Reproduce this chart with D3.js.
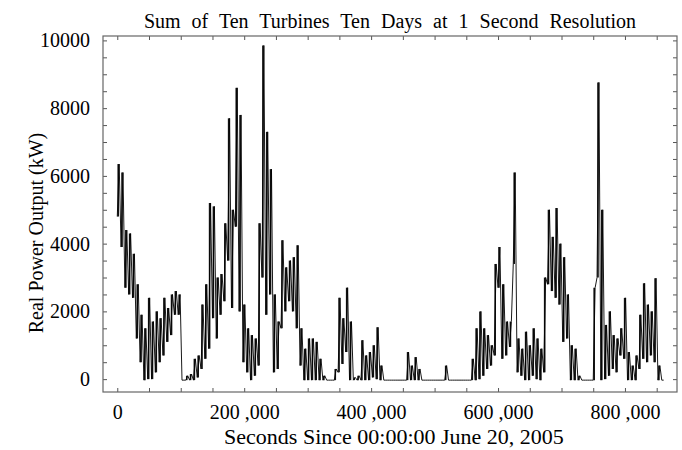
<!DOCTYPE html>
<html>
<head>
<meta charset="utf-8">
<script src="https://cdn.jsdelivr.net/npm/d3@7"></script>
<style>
  html, body { margin: 0; padding: 0; background: #fff; }
  svg text { font-family: "Liberation Serif", "Times New Roman", serif; fill: #000; }
</style>
</head>
<body>
<div id="chart"></div>
<script>
// Ten-day record, one low/high pair per 6000 s bucket (kW)
const bucketSeconds = 6000;

const lowKW = [
  4800, 3900, 2700, 2500, 2400, 1200, 500, -30, 0, 0,
  200, 500, 700, 1100, 1300, 1900, 1900, -30, -30, -30,
  -30, 50, 300, 600, 900, 1800, 1200, 1900, 2300, 3500,
  2100, 4500, 2000, 500, 200, -30, 100, 400, 3000, 1900,
  2500, 200, 300, 1500, 2000, 2300, 2000, 1500, 400, -30,
  -30, -30, -30, -30, -30, -30, -30, -30, 200, 450,
  800, -30, -30, -30, -30, -30, -30, 50, 0, -30,
  -30, -30, -30, -30, -30, -30, -30, -30, -30, -30,
  -30, -30, -30, -30, -30, -30, -30, -30, -30, -30,
  -30, -30, -30, -30, -30, 0, 100, 300, 400, 700,
  2700, 600, 700, 950, 3400, 200, 100, -30, -30, 100,
  0, -30, 200, 2800, 2600, 2400, 2200, 1100, 1200, -30,
  -30, -30, -30, -30, -30, -30, 3000, -30, 0, 100,
  300, 200, 700, 600, -30, -30, -30, 300, 600, 500,
  700, 500, -30, -30
];

const highKW = [
  6350, 6100, 4400, 4300, 3700, 2800, 1900, 1500, 2400, 1700,
  2000, 1800, 2400, 2100, 2500, 2600, 2500, -30, 100, 150,
  600, 700, 2200, 2800, 5200, 5100, 3000, 3100, 4600, 7700,
  5000, 8600, 7800, 2200, 1500, 1300, 1200, 4600, 9850, 7300,
  6200, 2500, 1700, 4100, 3300, 3500, 3600, 3950, 1500, 900,
  1200, 1200, 1100, 600, 100, -30, -30, 300, 2400, 1800,
  2700, 1700, 50, 100, 1150, 700, 800, 1000, 1530, 400,
  -30, -30, -30, -30, -30, -30, 800, 400, 650, 300,
  -30, -30, -30, -30, -30, -30, 400, -30, -30, -30,
  -30, -30, -30, 600, 1500, 2000, 1500, 1300, 1000, 3400,
  3900, 2800, 1700, 1700, 6100, 1200, 900, 1400, 1000, 1500,
  1200, 900, 3000, 5000, 4200, 5050, 4000, 3600, 2500, 1000,
  900, 100, -30, -30, -30, 2700, 8760, 5000, 1600, 2000,
  1300, 1200, 1500, 2400, 800, 400, 700, 1900, 2830, 2200,
  2000, 2980, 400, -30
];

const xTicks = d3.range(0, 850001, 50000);
const xLabels = [0, 200000, 400000, 600000, 800000];
const yTicks = d3.range(0, 10001, 500);
const yLabels = [0, 2000, 4000, 6000, 8000, 10000];

const titleText = 'Sum of Ten Turbines Ten Days at 1 Second Resolution';
const xTitle = 'Seconds Since 00:00:00 June 20, 2005';
const yTitle = 'Real Power Output (kW)';

document.addEventListener('DOMContentLoaded', function() {
  drawChart();
});

/**
 * Draws the framed line chart
 */
function drawChart() {
  const width = 682;
  const height = 450;
  const box = { left: 103, top: 36, right: 677, bottom: 392 };

  const svg = d3.select('#chart')
    .append('svg')
    .attr('width', width)
    .attr('height', height);

  const x = d3.scaleLinear().domain([-22500, 882000]).range([box.left, box.right]);
  const y = d3.scaleLinear().domain([-380, 10130]).range([box.bottom, box.top]);

  const buckets = lowKW.map((lo, i) => ({ t: i * bucketSeconds, lo: lo, hi: highKW[i] }));

  // min/max bar for each bucket, like a dense 1 s trace squeezed into one column
  svg.append('g')
    .selectAll('line')
    .data(buckets.filter(d => d.hi > d.lo))
    .enter()
    .append('line')
    .attr('x1', d => x(d.t + bucketSeconds / 4))
    .attr('x2', d => x(d.t + bucketSeconds / 4))
    .attr('y1', d => y(d.lo))
    .attr('y2', d => y(d.hi))
    .attr('stroke', '#111')
    .attr('stroke-width', 1.6);

  // zigzag through low and high of each bucket
  const points = [];
  buckets.forEach(d => {
    points.push({ t: d.t, v: d.lo });
    points.push({ t: d.t + bucketSeconds / 2, v: d.hi });
  });

  const line = d3.line()
    .x(d => x(d.t))
    .y(d => y(d.v));

  svg.append('path')
    .datum(points)
    .attr('d', line)
    .attr('fill', 'none')
    .attr('stroke', '#000')
    .attr('stroke-width', 0.9)
    .attr('stroke-linejoin', 'miter');

  const fmtX = v => xLabels.includes(v) ? d3.format(',')(v).replace(',', ' ,') : '';
  const fmtY = v => yLabels.includes(v) ? String(v) : '';

  // axes with inward ticks on all four sides
  const bottom = svg.append('g')
    .attr('transform', `translate(0,${box.bottom})`)
    .call(d3.axisBottom(x).tickValues(xTicks).tickSize(-4).tickPadding(13).tickFormat(fmtX));
  const top = svg.append('g')
    .attr('transform', `translate(0,${box.top})`)
    .call(d3.axisTop(x).tickValues(xTicks).tickSize(-4).tickFormat(''));
  const left = svg.append('g')
    .attr('transform', `translate(${box.left},0)`)
    .call(d3.axisLeft(y).tickValues(yTicks).tickSize(-4).tickPadding(13).tickFormat(fmtY));
  const right = svg.append('g')
    .attr('transform', `translate(${box.right},0)`)
    .call(d3.axisRight(y).tickValues(yTicks).tickSize(-4).tickFormat(''));

  [bottom, top, left, right].forEach(g => {
    g.select('.domain').remove();
    g.selectAll('.tick line').attr('stroke', '#555');
    g.selectAll('.tick text')
      .style('font-family', '"Liberation Serif", serif')
      .style('font-size', '20px')
      .attr('fill', '#000');
  });

  svg.append('rect')
    .attr('x', box.left)
    .attr('y', box.top)
    .attr('width', box.right - box.left)
    .attr('height', box.bottom - box.top)
    .attr('fill', 'none')
    .attr('stroke', '#666')
    .attr('stroke-width', 1.2);

  svg.append('text')
    .attr('x', 390)
    .attr('y', 28)
    .attr('text-anchor', 'middle')
    .style('font-size', '20px')
    .style('word-spacing', '6px')
    .text(titleText);

  svg.append('text')
    .attr('x', 394)
    .attr('y', 444)
    .attr('text-anchor', 'middle')
    .style('font-size', '22px')
    .text(xTitle);

  svg.append('text')
    .attr('transform', 'translate(43,233) rotate(-90)')
    .attr('text-anchor', 'middle')
    .style('font-size', '20px')
    .text(yTitle);
}
</script>
</body>
</html>
